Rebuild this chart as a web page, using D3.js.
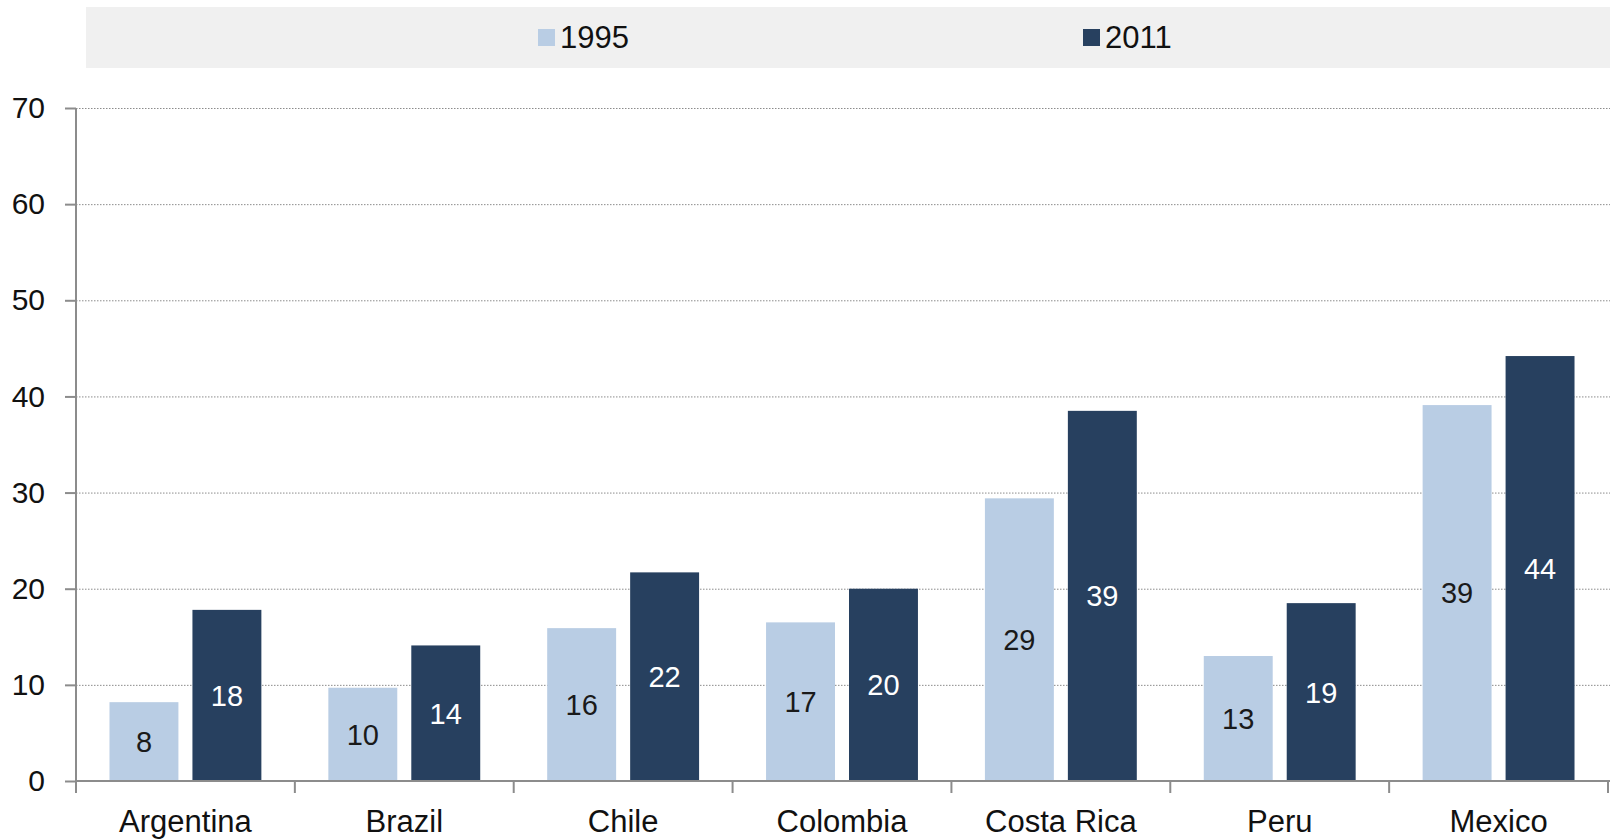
<!DOCTYPE html>
<html>
<head>
<meta charset="utf-8">
<script src="https://cdn.jsdelivr.net/npm/d3@7"></script>
<style>
  html, body { margin: 0; padding: 0; background: #fff; }
  svg { display: block; font-family: "Liberation Sans", Arial, sans-serif; }
</style>
</head>
<body>
<svg id="chart" width="1610" height="840"></svg>
<script>
(function () {
// ---- data ----
const categories = ["Argentina", "Brazil", "Chile", "Colombia", "Costa Rica", "Peru", "Mexico"];
const seriesNames = ["1995", "2011"];
const values1995 = [8.2, 9.7, 15.9, 16.5, 29.4, 13.0, 39.1];
const values2011 = [17.8, 14.1, 21.7, 20.0, 38.5, 18.5, 44.2];
const yTicks = [0, 10, 20, 30, 40, 50, 60, 70];

const colors = { "1995": "#b9cde4", "2011": "#27405f" };
const labelColors = { "1995": "#1a1a1a", "2011": "#ffffff" };

const seriesValues = { "1995": values1995, "2011": values2011 };
const rows = categories.map((c, i) => ({
  category: c,
  items: seriesNames.map(s => ({ series: s, value: seriesValues[s][i] }))
}));

const svg = d3.select("#chart");
const plotLeft = 76, plotRight = 1608, plotTop = 108, plotBottom = 781;

const x0 = d3.scaleBand().domain(categories).range([plotLeft, plotRight]).padding(0);
const bw = x0.bandwidth();
const x1 = d3.scaleBand().domain(seriesNames)
  .range([bw * 0.153, bw * 0.847]).paddingInner(0.169).paddingOuter(0);
const y = d3.scaleLinear().domain([0, 70]).range([plotBottom, plotTop]);

// legend background
svg.append("rect").attr("x", 86).attr("y", 7).attr("width", 1610 - 86).attr("height", 61)
  .attr("fill", "#f0f0f0");
const legendPos = { "1995": 538, "2011": 1083 };
seriesNames.forEach(s => {
  const g = svg.append("g").attr("transform", `translate(${legendPos[s]},0)`);
  g.append("rect").attr("x", 0).attr("y", 29).attr("width", 17).attr("height", 17).attr("fill", colors[s]);
  g.append("text").attr("x", 22).attr("y", 48).attr("font-size", 31).attr("fill", "#111").text(s);
});

// gridlines
svg.append("g").selectAll("line").data(yTicks.filter(t => t > 0)).join("line")
  .attr("x1", plotLeft).attr("x2", 1610)
  .attr("y1", d => y(d) + 0.5).attr("y2", d => y(d) + 0.5)
  .attr("stroke", "#8c8c8c").attr("stroke-width", 1).attr("stroke-dasharray", "1.5,1.5");

// bars
const groups = svg.append("g").selectAll("g").data(rows).join("g")
  .attr("transform", d => `translate(${x0(d.category)},0)`);
groups.selectAll("rect").data(d => d.items).join("rect")
  .attr("x", d => x1(d.series))
  .attr("y", d => y(d.value))
  .attr("width", x1.bandwidth())
  .attr("height", d => y(0) - y(d.value))
  .attr("fill", d => colors[d.series]);
groups.selectAll("text").data(d => d.items).join("text")
  .attr("x", d => x1(d.series) + x1.bandwidth() / 2)
  .attr("y", d => (y(d.value) + y(0)) / 2)
  .attr("dy", "0.36em")
  .attr("text-anchor", "middle")
  .attr("font-size", 29)
  .attr("fill", d => labelColors[d.series])
  .text(d => Math.round(d.value));

// y axis
const yAxis = d3.axisLeft(y).tickValues(yTicks).tickSize(11).tickPadding(20);
const yg = svg.append("g").attr("transform", `translate(${plotLeft},0)`).call(yAxis);
yg.select(".domain").remove();
yg.selectAll(".tick line").attr("stroke", "#8c8c8c").attr("stroke-width", 2);
yg.selectAll(".tick text").attr("font-size", 30).attr("fill", "#111")
  .attr("font-family", "Liberation Sans, Arial, sans-serif");
svg.append("line").attr("x1", plotLeft).attr("x2", plotLeft).attr("y1", plotTop).attr("y2", plotBottom + 12)
  .attr("stroke", "#8c8c8c").attr("stroke-width", 2);

// x axis
svg.append("line").attr("x1", plotLeft).attr("x2", plotRight + 2).attr("y1", plotBottom).attr("y2", plotBottom)
  .attr("stroke", "#8c8c8c").attr("stroke-width", 2);
const boundaries = categories.map(c => x0(c)).concat([plotRight]);
svg.append("g").selectAll("line").data(boundaries).join("line")
  .attr("x1", d => d).attr("x2", d => d).attr("y1", plotBottom).attr("y2", plotBottom + 12)
  .attr("stroke", "#8c8c8c").attr("stroke-width", 2);
svg.append("g").selectAll("text").data(categories).join("text")
  .attr("x", d => x0(d) + bw / 2)
  .attr("y", 832)
  .attr("text-anchor", "middle")
  .attr("font-size", 31)
  .attr("fill", "#111")
  .text(d => d);
})();
</script>
</body>
</html>
